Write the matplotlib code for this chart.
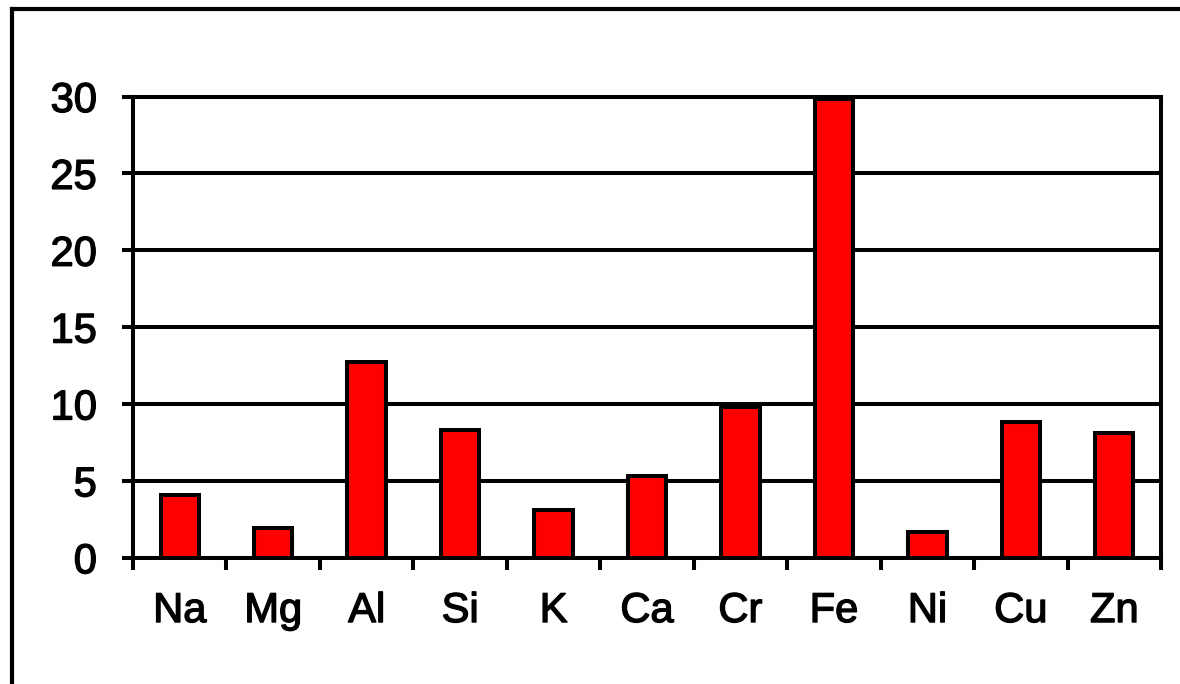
import matplotlib
matplotlib.use('Agg')
import matplotlib.pyplot as plt
import matplotlib.patheffects as pe
from matplotlib.lines import Line2D
import numpy as np

# element concentrations
elements = ['Na', 'Mg', 'Al', 'Si', 'K', 'Ca', 'Cr', 'Fe', 'Ni', 'Cu', 'Zn']
values = [4.1, 1.9, 12.75, 8.3, 3.1, 5.3, 9.8, 29.85, 1.7, 8.8, 8.1]
yticks = [0, 5, 10, 15, 20, 25, 30]

plt.rcParams['font.family'] = ['Liberation Sans', 'DejaVu Sans']

lw = 2.9

fig = plt.figure(figsize=(11.8, 6.84), dpi=100)
ax = fig.add_axes([133/1180, 1 - 557.7/684, 1028/1180, 461.2/684])

x = np.arange(len(elements))
ax.bar(x, values, width=0.41, color='#ff0000', edgecolor='black', linewidth=lw, zorder=3)

ax.set_xlim(-0.5, len(elements) - 0.5)
ax.set_ylim(0, 30)
ax.set_yticks(yticks)
ax.yaxis.grid(True, color='black', linewidth=lw, zorder=1)
ax.set_axisbelow(True)

# labels at the bar centres, tick marks between the categories
ax.set_xticks(x)
ax.set_xticklabels(elements)
ax.set_xticks(np.arange(-0.5, len(elements)), minor=True)
ax.tick_params(axis='x', which='major', length=0, pad=24, labelsize=30)
ax.tick_params(axis='x', which='minor', length=8.5, width=lw, direction='out')
ax.tick_params(axis='y', length=8, width=lw, direction='out', pad=18, labelsize=30)

# heavier glyphs, like the reference rendering
for t in ax.get_xticklabels() + ax.get_yticklabels():
    t.set_path_effects([pe.withStroke(linewidth=1.0, foreground='black')])

for s in ax.spines.values():
    s.set_linewidth(lw)
    s.set_color('black')

# outer chart frame (cut off at right and bottom in the reference)
fig.add_artist(Line2D([12/1180, 1.0], [1 - 9/684, 1 - 9/684], color='black', linewidth=3.0, transform=fig.transFigure))
fig.add_artist(Line2D([12/1180, 12/1180], [1 - 9/684, 0.0], color='black', linewidth=3.0, transform=fig.transFigure))

fig.savefig('out.png', dpi=100)
